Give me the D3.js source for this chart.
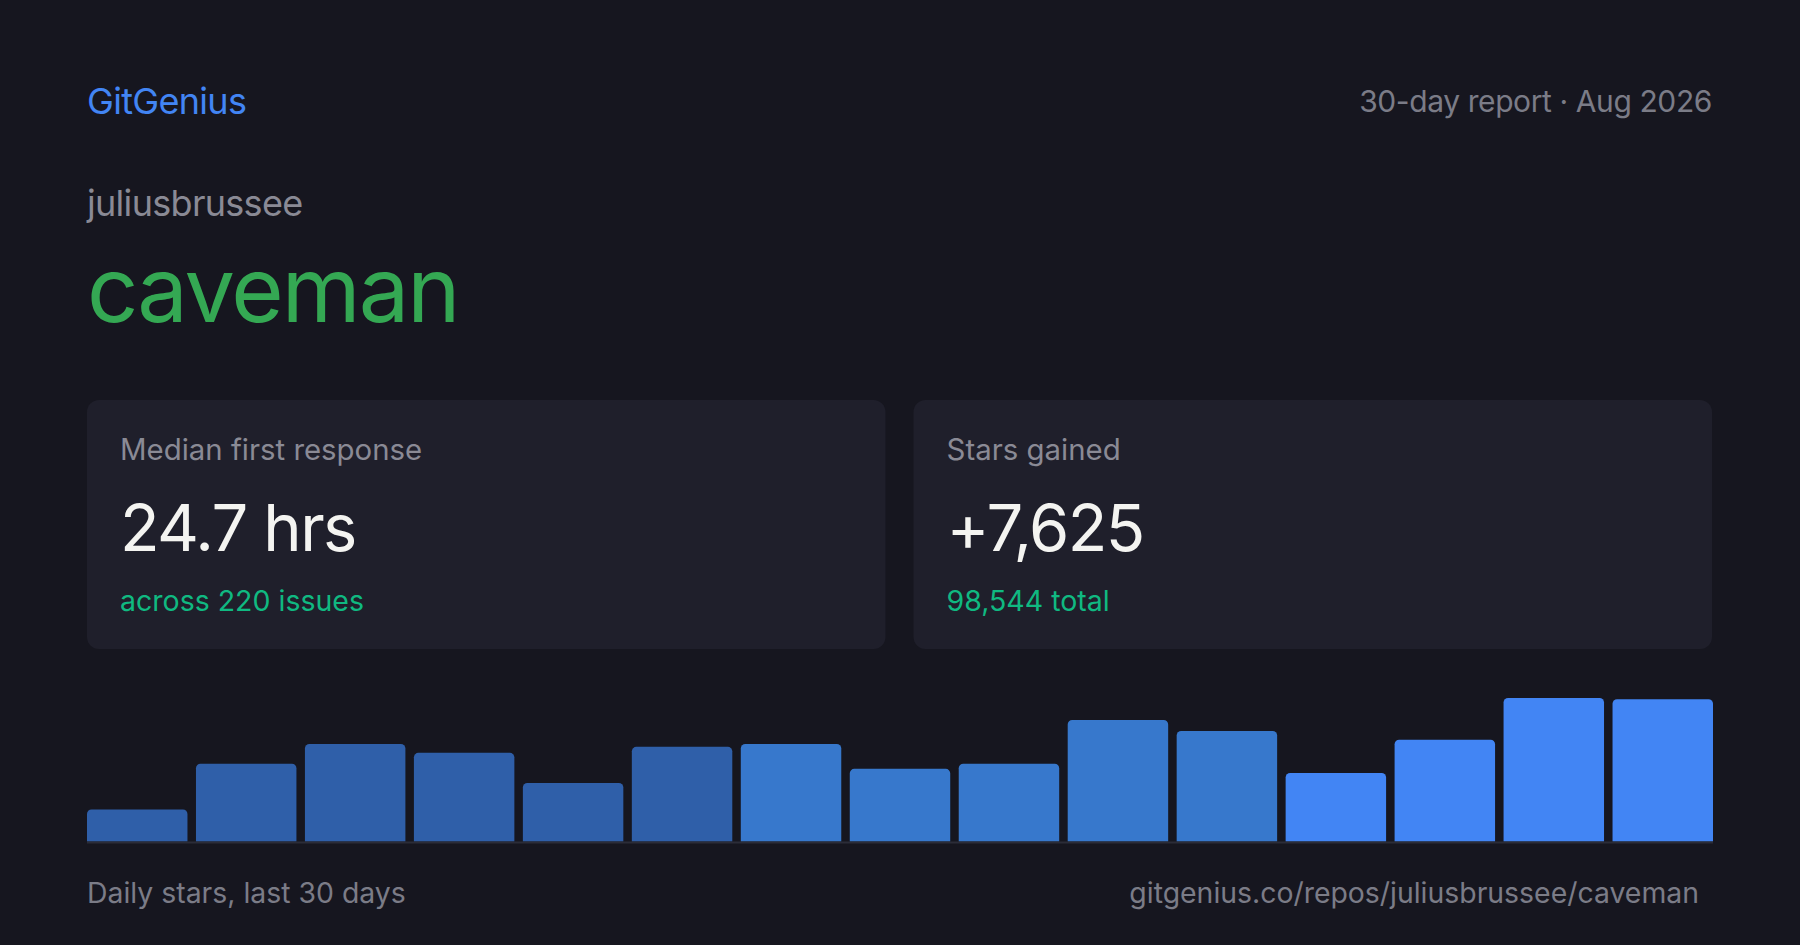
<!DOCTYPE html>
<html>
<head>
<meta charset="utf-8">
<script src="https://cdn.jsdelivr.net/npm/d3@7"></script>
<style>
  html, body { margin: 0; padding: 0; background: #16161f; }
  svg { display: block; font-family: Inter, "Noto Sans", sans-serif; }
</style>
</head>
<body>
<svg id="card" width="1800" height="945"></svg>
<script>
// two-day buckets over the last 30 days
var buckets = ["Jul 3", "Jul 5", "Jul 7", "Jul 9", "Jul 11", "Jul 13", "Jul 15", "Jul 17",
    "Jul 19", "Jul 21", "Jul 23", "Jul 25", "Jul 27", "Jul 29", "Jul 31"];
var stars = [176, 428, 537, 488, 322, 521, 537, 400, 428, 669, 609, 377, 560, 790, 783];

var statLabels = ["Median first response", "Stars gained"];
var statValues = ["24.7 hrs", "+7,625"];
var statNotes = ["across 220 issues", "98,544 total"];

var brand = "GitGenius";
var period = "30-day report \u00b7 Aug 2026";
var owner = "juliusbrussee";
var repo = "caveman";
var chartCaption = "Daily stars, last 30 days";
var repoUrl = "gitgenius.co/repos/juliusbrussee/caveman";

var W = 1800, left = 87, right = 1713;
var svg = d3.select("#card");

svg.append("rect").attr("width", W).attr("height", 945).attr("fill", "#16161f");

// header
svg.append("text").attr("x", left).attr("y", 114)
    .attr("font-size", 36).attr("letter-spacing", "-0.7").attr("fill", "#4285f4").text(brand);
svg.append("text").attr("x", right - 1).attr("y", 112)
    .attr("text-anchor", "end").attr("font-size", 30).attr("letter-spacing", "-0.4")
    .attr("fill", "#7b7c87").text(period);

svg.append("text").attr("x", left).attr("y", 216)
    .attr("font-size", 36).attr("letter-spacing", "-0.7").attr("fill", "#8a8a95").text(owner);
svg.append("text").attr("x", left).attr("y", 322)
    .attr("font-size", 90).attr("letter-spacing", "-2").attr("fill", "#34a853").text(repo);

// stat cards
var cardX = d3.scaleBand().domain(d3.range(statLabels.length))
    .range([left, right - 1]).paddingInner(0.034);

var cards = svg.selectAll("g.stat")
    .data(statLabels)
    .enter()
    .append("g")
    .attr("class", "stat")
    .attr("transform", function (d, i) {
        return "translate(" + cardX(i) + ",400)";
    });

cards.append("rect")
    .attr("width", cardX.bandwidth())
    .attr("height", 249)
    .attr("rx", 12)
    .attr("fill", "#1f1f2b");

cards.append("text").attr("x", 33).attr("y", 60)
    .attr("font-size", 29.4).attr("fill", "#8a8a95")
    .text(function (d) { return d; });

cards.append("text").attr("x", 33).attr("y", 151)
    .attr("font-size", 65).attr("letter-spacing", "-1.6").attr("fill", "#f4f4f1")
    .text(function (d, i) { return statValues[i]; });

cards.append("text").attr("x", 33).attr("y", 211)
    .attr("font-size", 28.5).attr("fill", "#10b981")
    .text(function (d, i) { return statNotes[i]; });

// bar chart
var baseY = 841.5;
var x = d3.scaleBand().domain(buckets).range([left, right]).paddingInner(0.078);
var y = d3.scaleLinear().domain([0, d3.max(stars)]).range([baseY, 698]);
var tone = d3.scaleThreshold().domain([6, 11]).range(["#2f5fa9", "#3778cc", "#4285f4"]);

function topRounded(x0, y0, w, h, r) {
    var p = d3.path();
    p.moveTo(x0, y0 + h);
    p.lineTo(x0, y0 + r);
    p.arcTo(x0, y0, x0 + r, y0, r);
    p.lineTo(x0 + w - r, y0);
    p.arcTo(x0 + w, y0, x0 + w, y0 + r, r);
    p.lineTo(x0 + w, y0 + h);
    p.closePath();
    return p.toString();
}

svg.append("g")
    .selectAll("path.bar")
    .data(stars)
    .enter()
    .append("path")
    .attr("class", "bar")
    .attr("d", function (d, i) {
        return topRounded(x(buckets[i]), y(d), x.bandwidth(), baseY - y(d), 4.5);
    })
    .attr("fill", function (d, i) { return tone(i); });

svg.append("rect").attr("x", left).attr("y", baseY)
    .attr("width", right - left).attr("height", 2).attr("fill", "#2b2c38");

// footer
svg.append("text").attr("x", left).attr("y", 903)
    .attr("font-size", 28.4).attr("fill", "#7b7c87").text(chartCaption);
svg.append("text").attr("x", 1699).attr("y", 903)
    .attr("text-anchor", "end").attr("font-size", 28.4).attr("fill", "#7b7c87").text(repoUrl);
</script>
</body>
</html>
